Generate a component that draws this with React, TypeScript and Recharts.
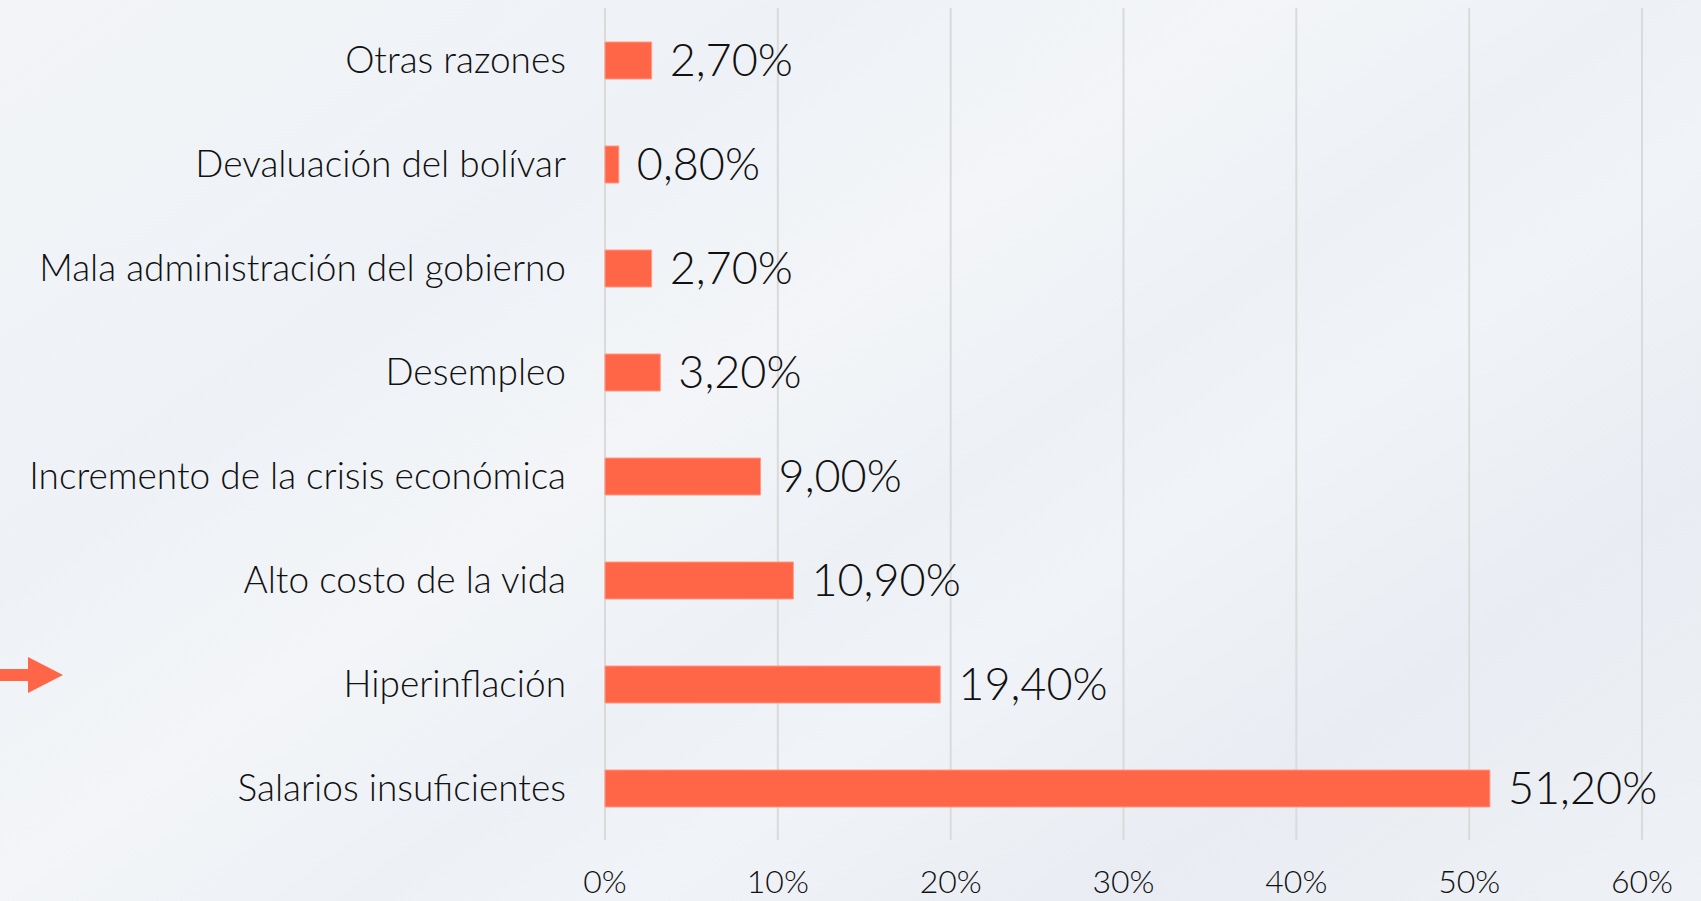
import { Bar, BarChart, CartesianGrid, LabelList, XAxis, YAxis } from "recharts";

const categories = [
  "Otras razones",
  "Devaluación del bolívar",
  "Mala administración del gobierno",
  "Desempleo",
  "Incremento de la crisis económica",
  "Alto costo de la vida",
  "Hiperinflación",
  "Salarios insuficientes",
];

const shares = [2.7, 0.8, 2.7, 3.2, 9.0, 10.9, 19.4, 51.2];

const xTicks = [0, 10, 20, 30, 40, 50, 60];

const chartData = categories.map((name, i) => ({ name, share: shares[i] }));

const fontFamily = "Lato, 'Noto Sans', sans-serif";

function formatShare(value: number) {
  return `${value.toFixed(2).replace(".", ",")}%`;
}

export default function App() {
  return (
    <div
      style={{
        position: "absolute",
        left: 0,
        top: 0,
        width: 1701,
        height: 901,
        overflow: "hidden",
        background:
          "linear-gradient(145deg, #f2f4f7 0%, #eef2f6 28%, #f3f5f8 42%, #edf1f5 55%, #f0f3f7 64%, #e9edf3 80%, #eef1f5 100%)",
        fontFamily,
      }}
    >
      <BarChart
        width={1701}
        height={901}
        data={chartData}
        layout="vertical"
        margin={{ top: 8, right: 59, bottom: 0, left: 0 }}
      >
        <CartesianGrid horizontal={false} stroke="#dadada" strokeWidth={2} />
        <XAxis
          type="number"
          dataKey="share"
          domain={[0, 60]}
          ticks={xTicks}
          tickFormatter={(v) => `${v}%`}
          axisLine={false}
          tickLine={false}
          tickSize={0}
          tickMargin={30}
          height={61}
          tick={{ fill: "#111", fontSize: 32, fontWeight: 300, fontFamily }}
        />
        <YAxis
          type="category"
          dataKey="name"
          width={605}
          axisLine={false}
          tickLine={false}
          tickSize={0}
          tickMargin={39}
          interval={0}
          tick={{ fill: "#111", fontSize: 37, fontWeight: 300, fontFamily }}
        />
        <Bar dataKey="share" fill="#ff6648" stroke="#ff9a86" strokeWidth={1} barSize={37} isAnimationActive={false}>
          <LabelList
            dataKey="share"
            position="right"
            offset={18}
            formatter={(v: number) => formatShare(Number(v))}
            style={{ fill: "#111", fontSize: 45, fontWeight: 300, fontFamily }}
          />
        </Bar>
      </BarChart>
      <svg
        width={70}
        height={40}
        style={{ position: "absolute", left: 0, top: 656 }}
      >
        <polygon points="0,13 28,13 28,1 63,19 28,37 28,25 0,25" fill="#ff6648" />
      </svg>
    </div>
  );
}
